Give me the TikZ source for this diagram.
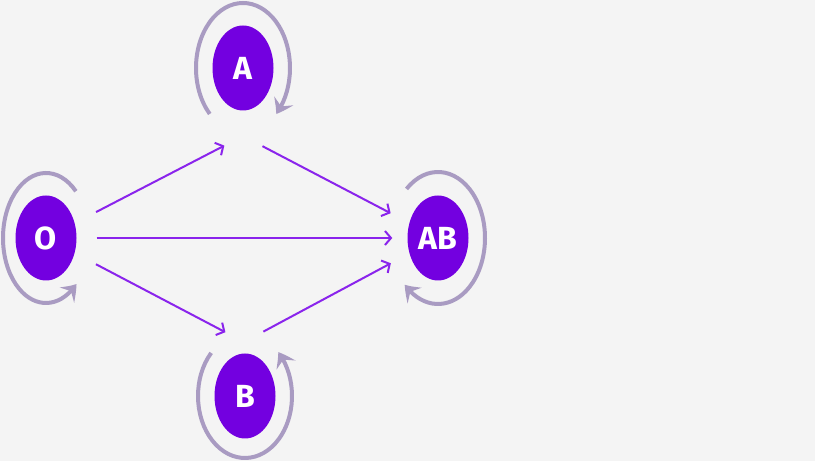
\documentclass[tikz,border=0pt]{standalone}
\usepackage{fontspec}
\setmainfont{Fira Sans}
\usetikzlibrary{shapes.geometric,arrows.meta,bending}
\definecolor{bg}{HTML}{F4F4F4}
\definecolor{nodefill}{HTML}{7300E0}
\definecolor{arrcol}{HTML}{8A24EC}
\definecolor{loopcol}{HTML}{A99BC2}
\tikzset{
  state/.style={ellipse, fill=nodefill, draw=none, minimum width=61pt, minimum height=85pt, inner sep=0pt, text=white, font=\fontsize{32}{34}\selectfont\bfseries},
  arr/.style={draw=arrcol, line width=2pt, -{Straight Barb[length=6pt,width=14pt,line width=2pt]}},
  selfloop/.style={draw=loopcol, line width=4pt, -{Stealth[length=15pt,width=21pt,inset=6pt,bend]}}
}
\begin{document}
\begin{tikzpicture}[x=1pt,y=1pt]
\useasboundingbox (0,0) rectangle (820,462);
\fill[white] (0,0) rectangle (820,462);
\fill[bg] (0,1) rectangle (815,462);
\node[state] (O) at (46,224) {O};
\node[state] (A) at (243,394) {A};
\node[state] (AB) at (438,224) {AB};
\node[state] (B) at (245,66) {B};
\coordinate (Ap) at (243,326);
\coordinate (Bp) at (244,120);
% connectors
\draw[arr, shorten <=24pt, shorten >=21pt] (O) -- (Ap);
\draw[arr, shorten <=24pt, shorten >=21pt] (O) -- (Bp);
\draw[arr, shorten <=20pt, shorten >=15pt] (O) -- (AB);
\draw[arr, shorten <=22pt, shorten >=21pt] (Ap) -- (AB);
\draw[arr, shorten <=22pt, shorten >=21pt] (Bp) -- (AB);
% self loops
\draw[selfloop] ([shift={(225:47 and 65)}]A.center) arc[start angle=225, end angle=-45, x radius=47, y radius=65];
\draw[selfloop] ([shift={(46:43 and 65)}]O.center) arc[start angle=46, end angle=315, x radius=43, y radius=65];
\draw[selfloop] ([shift={(132:47 and 66)}]AB.center) arc[start angle=132, end angle=-135, x radius=47, y radius=66];
\draw[selfloop] ([shift={(136:47 and 62)}]B.center) arc[start angle=136, end angle=405, x radius=47, y radius=62];
\end{tikzpicture}
\end{document}
